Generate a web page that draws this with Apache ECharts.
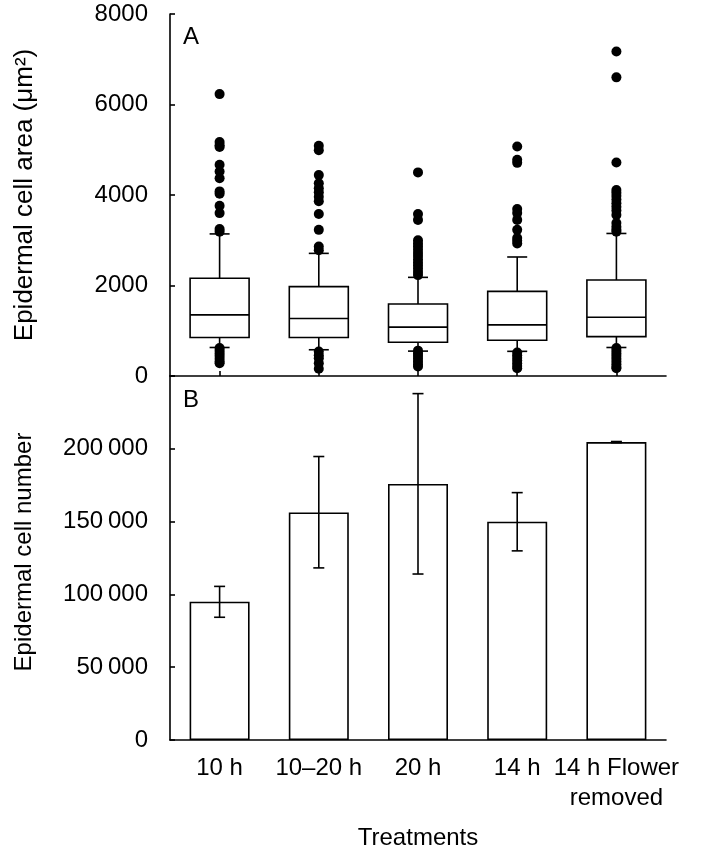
<!DOCTYPE html>
<html><head><meta charset="utf-8">
<script src="https://cdn.jsdelivr.net/npm/echarts@6/dist/echarts.min.js"></script>
<style>html,body{margin:0;padding:0;background:#fff}#c{width:706px;height:853px}</style>
</head><body><div id="c"></div>
<script>
// ---- data ----
const categories = ['10 h', '10–20 h', '20 h', '14 h', '14 h Flower\nremoved'];

// Panel A: epidermal cell area box plots (µm²)
const areaLow    = [630, 580, 550, 545, 630];
const areaQ1     = [850, 850, 745, 790, 870];
const areaMedian = [1350, 1270, 1080, 1130, 1300];
const areaQ3     = [2160, 1975, 1590, 1870, 2120];
const areaHigh   = [3140, 2710, 2180, 2630, 3150];

const outliers10h   = [6230, 5170, 5100, 5060, 4670, 4520, 4370, 4080, 4030, 3760, 3600, 3250, 3190, 620, 560, 500, 440, 380, 320, 280];
const outliers1020h = [5090, 4990, 4440, 4260, 4150, 4060, 3960, 3860, 3580, 3230, 2860, 2780, 540, 460, 390, 280, 160];
const outliers20h   = [4500, 3580, 3450, 3000, 2930, 2860, 2790, 2720, 2650, 2580, 2510, 2440, 2370, 2300, 2230, 560, 500, 440, 380, 320, 260, 210];
const outliers14h   = [5070, 4780, 4710, 3690, 3600, 3450, 3230, 3050, 2990, 2930, 520, 460, 400, 340, 280, 220, 170];
const outliers14hFR = [7170, 6600, 4720, 4110, 4050, 3980, 3900, 3820, 3740, 3660, 3560, 3380, 3300, 3230, 3190, 620, 560, 500, 440, 380, 320, 260, 200, 170];

// Panel B: epidermal cell number (mean with error bars)
const cellNumber     = [95000, 156300, 175900, 149900, 204600];
const cellNumberLow  = [84300, 118200, 114000, 129900, 204200];
const cellNumberHigh = [105500, 194700, 237900, 169900, 205000];

// Axis ticks
const areaTicks   = [0, 2000, 4000, 6000, 8000];
const areaTickLabels = ['0', '2000', '4000', '6000', '8000'];
const numberTicks = [0, 50000, 100000, 150000, 200000, 250000];
const numberTickLabels = ['0', '50\u2009000', '100\u2009000', '150\u2009000', '200\u2009000', ''];

// ---- chart ----
const FONT = '"Liberation Sans", Arial, Helvetica, sans-serif';
const BLACK = '#000';
const LW = 1.6;

const outlierGroups = [outliers10h, outliers1020h, outliers20h, outliers14h, outliers14hFR];
const outlierData = [];
outlierGroups.forEach((g, i) => g.forEach(v => outlierData.push([i, v])));

const boxData = categories.map((c, i) => [i, areaLow[i], areaQ1[i], areaMedian[i], areaQ3[i], areaHigh[i]]);
const errData = categories.map((c, i) => [i, cellNumberLow[i], cellNumberHigh[i]]);

function renderBox(params, api) {
  const i = api.value(0);
  const p = v => api.coord([i, v]);
  const lo = p(api.value(1)), q1 = p(api.value(2)), md = p(api.value(3)), q3 = p(api.value(4)), hi = p(api.value(5));
  const x = lo[0], hw = 29.5, cw = 10;
  const st = { stroke: BLACK, lineWidth: LW, fill: null };
  return { type: 'group', children: [
    { type: 'line', shape: { x1: x, y1: q3[1], x2: x, y2: hi[1] }, style: st },
    { type: 'line', shape: { x1: x - cw, y1: hi[1], x2: x + cw, y2: hi[1] }, style: st },
    { type: 'line', shape: { x1: x, y1: q1[1], x2: x, y2: lo[1] }, style: st },
    { type: 'line', shape: { x1: x - cw, y1: lo[1], x2: x + cw, y2: lo[1] }, style: st },
    { type: 'rect', shape: { x: x - hw, y: q3[1], width: 2 * hw, height: q1[1] - q3[1] }, style: { stroke: BLACK, lineWidth: LW, fill: '#fff' } },
    { type: 'line', shape: { x1: x - hw, y1: md[1], x2: x + hw, y2: md[1] }, style: st }
  ]};
}

function renderErr(params, api) {
  const i = api.value(0);
  const lo = api.coord([i, api.value(1)]), hi = api.coord([i, api.value(2)]);
  const x = lo[0], cw = 5.5;
  const st = { stroke: BLACK, lineWidth: LW, fill: null };
  return { type: 'group', children: [
    { type: 'line', shape: { x1: x, y1: lo[1], x2: x, y2: hi[1] }, style: st },
    { type: 'line', shape: { x1: x - cw, y1: lo[1], x2: x + cw, y2: lo[1] }, style: st },
    { type: 'line', shape: { x1: x - cw, y1: hi[1], x2: x + cw, y2: hi[1] }, style: st }
  ]};
}

const axisLine = { show: true, lineStyle: { color: BLACK, width: LW } };
const axisTick = { show: true, inside: true, length: 5, lineStyle: { color: BLACK, width: LW } };

const chart = echarts.init(document.getElementById('c'), null, { renderer: 'canvas' });
chart.setOption({
  animation: false,
  backgroundColor: '#fff',
  textStyle: { fontFamily: FONT, color: BLACK },
  grid: [
    { left: 170, top: 14, width: 496, height: 362 },
    { left: 170, top: 376, width: 496, height: 364 }
  ],
  xAxis: [
    { type: 'category', gridIndex: 0, data: categories, axisLine, axisTick: Object.assign({ alignWithLabel: true }, axisTick), axisLabel: { show: false }, splitLine: { show: false } },
    { type: 'category', gridIndex: 1, data: categories, axisLine, axisTick: Object.assign({ alignWithLabel: true }, axisTick),
      axisLabel: { fontFamily: FONT, fontSize: 24, color: BLACK, margin: 13, lineHeight: 30, interval: 0 },
      name: 'Treatments', nameLocation: 'middle', nameGap: 86,
      nameTextStyle: { fontFamily: FONT, fontSize: 24, color: BLACK } }
  ],
  yAxis: [
    { type: 'value', gridIndex: 0, min: areaTicks[0], max: areaTicks[areaTicks.length - 1], interval: areaTicks[1] - areaTicks[0],
      axisLine, axisTick, splitLine: { show: false },
      axisLabel: { fontFamily: FONT, fontSize: 24, color: BLACK, margin: 22,
        formatter: v => { const k = areaTicks.indexOf(v); return k >= 0 ? areaTickLabels[k] : ''; } },
      name: 'Epidermal cell area (μm²)', nameLocation: 'middle', nameGap: 132,
      nameTextStyle: { fontFamily: FONT, fontSize: 26, color: BLACK } },
    { type: 'value', gridIndex: 1, min: numberTicks[0], max: numberTicks[numberTicks.length - 1], interval: numberTicks[1] - numberTicks[0],
      axisLine, axisTick, splitLine: { show: false },
      axisLabel: { fontFamily: FONT, fontSize: 24, color: BLACK, margin: 22,
        formatter: v => { const k = numberTicks.indexOf(v); return k >= 0 ? numberTickLabels[k] : ''; } },
      name: 'Epidermal cell number', nameLocation: 'middle', nameGap: 134,
      nameTextStyle: { fontFamily: FONT, fontSize: 24, color: BLACK, padding: [0, 0, 0, 12] } }
  ],
  series: [
    { type: 'custom', xAxisIndex: 0, yAxisIndex: 0, data: boxData, renderItem: renderBox, encode: { x: 0, y: [1, 2, 3, 4, 5] }, z: 2 },
    { type: 'scatter', xAxisIndex: 0, yAxisIndex: 0, data: outlierData, symbol: 'circle', symbolSize: 10, itemStyle: { color: BLACK, opacity: 1 }, z: 3 },
    { type: 'bar', xAxisIndex: 1, yAxisIndex: 1, data: cellNumber, barWidth: 60, itemStyle: { color: '#fff', borderColor: BLACK, borderWidth: LW }, z: 2 },
    { type: 'custom', xAxisIndex: 1, yAxisIndex: 1, data: errData, renderItem: renderErr, encode: { x: 0, y: [1, 2] }, z: 3 }
  ],
  graphic: [
    { type: 'text', x: 191, y: 37, style: { text: 'A', font: '24px ' + FONT, fill: BLACK, align: 'center', verticalAlign: 'middle' } },
    { type: 'text', x: 191, y: 400, style: { text: 'B', font: '24px ' + FONT, fill: BLACK, align: 'center', verticalAlign: 'middle' } }
  ]
});
</script></body></html>
